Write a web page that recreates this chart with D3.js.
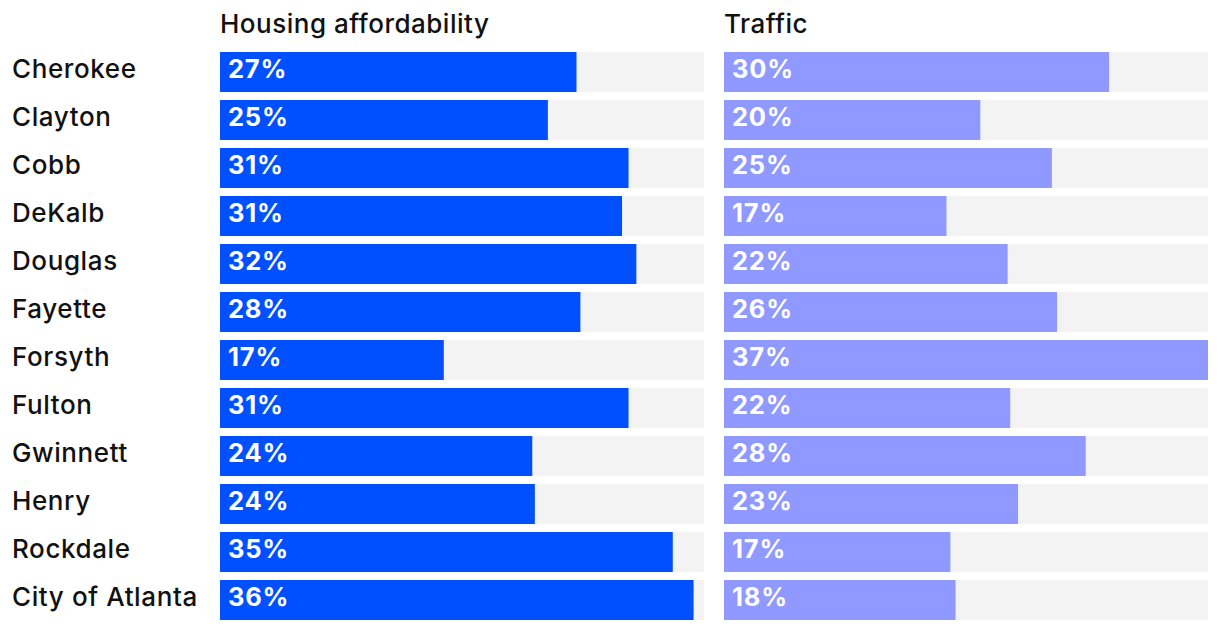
<!DOCTYPE html>
<html>
<head>
<meta charset="utf-8">
<script src="https://cdn.jsdelivr.net/npm/d3@7"></script>
<style>
  body { margin: 0; background: #fff; }
  text { font-family: Inter, "Open Sans", sans-serif; }
</style>
</head>
<body>
<div id="chart"></div>
<script>
// data (percent of respondents)
var counties = ["Cherokee", "Clayton", "Cobb", "DeKalb", "Douglas", "Fayette",
  "Forsyth", "Fulton", "Gwinnett", "Henry", "Rockdale", "City of Atlanta"];
var housing = [27.4, 25.2, 31.4, 30.9, 32.0, 27.7, 17.2, 31.4, 24.0, 24.2, 34.8, 36.4];
var traffic = [29.6, 19.7, 25.2, 17.1, 21.8, 25.6, 37.2, 22.0, 27.8, 22.6, 17.4, 17.8];
var panelTitles = ["Housing affordability", "Traffic"];

var width = 1220, height = 630;
var margin = {top: 52, left: 12};
var rowStep = 48, rowGap = 8;
var panelWidth = 484;
var panelX = [220, 724];
var colors = ["#0050ff", "#9099ff"];

var svg = d3.select("#chart").append("svg")
  .attr("width", width)
  .attr("height", height);

var y = d3.scaleBand()
  .domain(counties)
  .range([margin.top, margin.top + rowStep * counties.length - rowGap])
  .paddingInner(rowGap / rowStep)
  .paddingOuter(0);

var x = d3.scaleLinear()
  .domain([0, d3.max(housing.concat(traffic))])
  .range([0, panelWidth]);

// county labels
svg.append("g").selectAll("text")
  .data(counties)
  .enter().append("text")
  .attr("x", margin.left)
  .attr("y", d => y(d) + 26)
  .attr("font-size", "26px")
  .attr("font-weight", 500)
  .attr("letter-spacing", "0.6px")
  .attr("fill", "#111")
  .text(d => d);

[housing, traffic].forEach(function(values, p) {
  var g = svg.append("g")
    .attr("transform", "translate(" + panelX[p] + ",0)");

  g.append("text")
    .attr("x", 0)
    .attr("y", 33)
    .attr("font-size", "26px")
    .attr("font-weight", 500)
    .attr("letter-spacing", "0.5px")
    .attr("fill", "#111")
    .text(panelTitles[p]);

  var rows = g.selectAll("g.row")
    .data(counties.map((c, i) => [c, values[i]]))
    .enter().append("g")
    .attr("class", "row")
    .attr("transform", d => "translate(0," + y(d[0]) + ")");

  rows.append("rect")
    .attr("width", x.range()[1])
    .attr("height", y.bandwidth())
    .attr("fill", "#f3f3f3");

  rows.append("rect")
    .attr("width", d => x(d[1]))
    .attr("height", y.bandwidth())
    .attr("fill", colors[p]);

  rows.append("text")
    .attr("x", 8)
    .attr("y", 26)
    .attr("font-family", "'DejaVu Sans', sans-serif")
    .attr("font-size", "25.5px")
    .attr("font-weight", 700)
    .attr("letter-spacing", "0.8px")
    .attr("fill", "#fff")
    .text(d => Math.round(d[1]) + "%");
});
</script>
</body>
</html>
